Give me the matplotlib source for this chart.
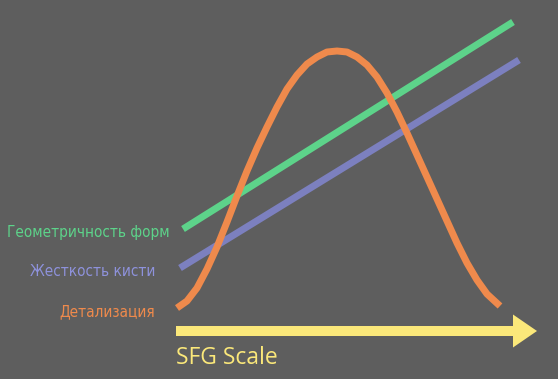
import matplotlib
matplotlib.use('Agg')
import matplotlib.pyplot as plt
from matplotlib import font_manager as fm

# data (picture units: x along the scale, y upward)
detail_x = [177, 187, 197, 207, 217, 227, 237, 247, 257, 267, 277, 287, 297,
            307, 317, 327, 337, 347, 357, 367, 377, 387, 397, 407, 417, 427,
            437, 447, 457, 467, 477, 487, 500]
detail_y = [71, 78, 91, 110, 132, 157, 183, 208, 231, 252, 272, 290, 304,
            315, 322, 327, 328, 327, 322, 314, 302, 286, 267, 246, 224, 202,
            180, 158, 136, 116, 99, 85, 73]
geom_x = [183, 513]
geom_y = [150, 357]
stiff_x = [180, 519]
stiff_y = [111, 319]

labels = ['Геометричность форм', 'Жесткость кисти', 'Детализация']
label_x = [170, 155, 155]
label_y = [146, 107, 67]

bg = '#5e5e5e'
c_geom = '#5dd38a'
c_stiff = '#7c80bf'
c_stiff_txt = '#8e92dc'
c_detail = '#ef8a4c'
c_scale = '#fbe87a'


def narrow_font():
    # a condensed face if one is installed, else Roboto
    for f in fm.fontManager.ttflist:
        if 'Narrow' in f.name or 'Condensed' in f.name or f.stretch == 'condensed':
            if f.style == 'normal' and f.weight in (400, 'normal', 'regular'):
                return fm.FontProperties(fname=f.fname)
    return fm.FontProperties(family='Roboto')


fig = plt.figure(figsize=(5.58, 3.79), dpi=100, facecolor=bg)
ax = fig.add_axes([0, 0, 1, 1])
ax.set_facecolor(bg)
ax.set_xlim(0, 558)
ax.set_ylim(0, 379)
ax.axis('off')

lw = 5.0
ax.plot(geom_x, geom_y, color=c_geom, lw=lw, solid_capstyle='butt')
ax.plot(stiff_x, stiff_y, color=c_stiff, lw=lw, solid_capstyle='butt')
ax.plot(detail_x, detail_y, color=c_detail, lw=lw, solid_capstyle='butt',
        solid_joinstyle='round')

# scale arrow
ax.arrow(176, 48, 361, 0, width=10, head_width=33, head_length=24,
         length_includes_head=True, color=c_scale, lw=0)
ax.text(176, 15, 'SFG Scale', color=c_scale, fontsize=16.5,
        family=['Open Sans', 'DejaVu Sans'], ha='left', va='baseline')

fp = narrow_font()
fp.set_size(15)
texts = []
for txt, x, y, c in zip(labels, label_x, label_y, [c_geom, c_stiff_txt, c_detail]):
    texts.append(ax.text(x, y, txt, color=c, fontproperties=fp.copy(),
                         ha='right', va='center'))

# fit the longest label to about the width it has in the original
fig.canvas.draw()
w = texts[0].get_window_extent().width
if w > 165:
    for t in texts:
        t.set_fontsize(15 * 163 / w)

fig.savefig('out.png', dpi=100, facecolor=bg)
